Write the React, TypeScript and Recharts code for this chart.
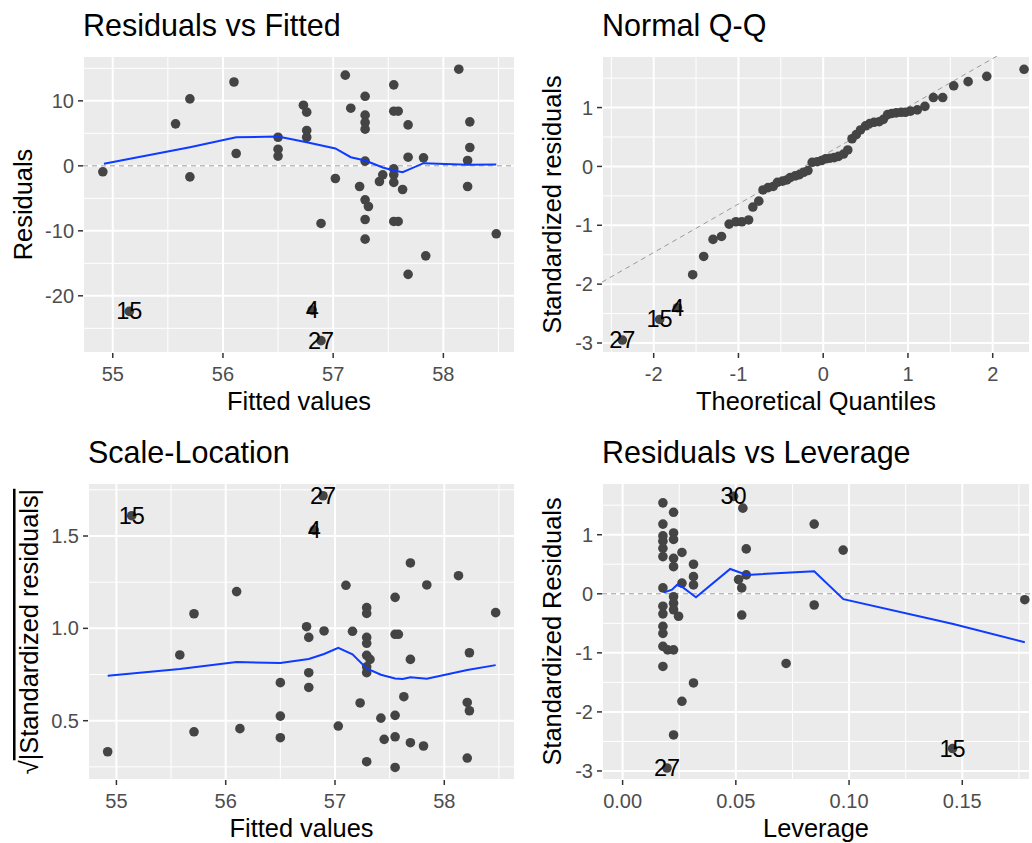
import React from "react";
import { ScatterChart, Scatter, XAxis, YAxis, CartesianGrid, ReferenceLine } from "recharts";

const FONT = '"Liberation Sans", Arial, Helvetica, sans-serif';
const POINT = "#444444";
const BLUE = "#0d3bff";
const DASH = "#9a9a9a";

// Residuals vs Fitted: [fitted, residual]
const rvfPoints = [
  [54.91, -0.92], [55.57, 6.46], [55.7, 10.3], [55.7, -1.7], [56.1, 12.9], [56.12, 1.9],
  [56.5, 4.4], [56.5, 2.56], [56.5, 1.5], [56.73, 9.33], [56.76, 8.26], [56.76, 5.44],
  [56.76, 4.4], [56.89, -8.87], [57.02, -1.95], [57.11, 13.95], [57.16, 8.87], [57.24, -3.18],
  [57.29, 10.7], [57.29, 7.8], [57.29, 6.67], [57.29, 5.64], [57.29, 0.72], [57.29, -5.23],
  [57.32, -6.26], [57.29, -8.26], [57.29, -11.28], [57.42, -2.41], [57.45, -1.38], [57.55, 12.46],
  [57.55, 8.41], [57.59, 8.41], [57.55, -0.46], [57.55, -1.38], [57.55, -2.56], [57.55, -8.56],
  [57.59, -8.56], [57.63, -3.64], [57.68, 6.3], [57.68, 1.33], [57.68, -16.7], [57.82, 1.23],
  [57.84, -13.85], [58.14, 14.87], [58.22, 0.82], [58.22, -3.18], [58.24, 6.77], [58.24, 2.82],
  [58.48, -10.46],
];
const rvfLabeled = [
  ["15", 55.15, -22.4], ["4", 56.81, -22.2], ["27", 56.89, -26.9],
];
const rvfSmooth = [
  [54.92, 0.31], [55.7, 2.87], [56.12, 4.41], [56.5, 4.5], [56.76, 3.64], [57.02, 2.67],
  [57.16, 1.33], [57.29, 0.82], [57.45, -0.26], [57.55, -0.72], [57.63, -0.97], [57.68, -0.62],
  [57.82, 0.41], [58.22, 0.15], [58.48, 0.2],
];

// Normal Q-Q: [theoretical, standardized residual]
const qqPoints = [
  [-1.54, -1.84], [-1.41, -1.53], [-1.3, -1.24], [-1.2, -1.19], [-1.11, -0.98], [-1.03, -0.94],
  [-0.96, -0.94], [-0.88, -0.91], [-0.83, -0.69], [-0.76, -0.59], [-0.71, -0.4], [-0.65, -0.36],
  [-0.59, -0.34], [-0.54, -0.27], [-0.48, -0.25], [-0.43, -0.23], [-0.39, -0.19], [-0.33, -0.16],
  [-0.28, -0.14], [-0.23, -0.1], [-0.18, -0.07], [-0.13, 0.07], [-0.07, 0.08], [-0.02, 0.1],
  [0.03, 0.13], [0.08, 0.14], [0.13, 0.15], [0.18, 0.17], [0.24, 0.21], [0.29, 0.28],
  [0.34, 0.47], [0.39, 0.54], [0.44, 0.62], [0.5, 0.69], [0.55, 0.73], [0.6, 0.75],
  [0.66, 0.76], [0.71, 0.8], [0.76, 0.88], [0.81, 0.9], [0.86, 0.91], [0.92, 0.92],
  [0.97, 0.92], [1.03, 0.94], [1.11, 0.96], [1.2, 1.02], [1.3, 1.17], [1.41, 1.17],
  [1.54, 1.37], [1.71, 1.44], [1.93, 1.53], [2.37, 1.65],
];
const qqLabeled = [
  ["27", -2.37, -2.95], ["15", -1.93, -2.6], ["4", -1.72, -2.4],
];
const qqLine = { slope: 0.824, intercept: 0.185 };

// Scale-Location: [fitted, sqrt(|std resid|)]
const slPoints = [
  [54.92, 0.332], [55.58, 0.856], [55.71, 1.079], [55.71, 0.44], [56.1, 1.199], [56.13, 0.457],
  [56.5, 0.706], [56.5, 0.525], [56.5, 0.408], [56.74, 1.009], [56.76, 0.951], [56.76, 0.76],
  [56.76, 0.68], [56.9, 0.986], [57.03, 0.471], [57.1, 1.233], [57.16, 0.984], [57.23, 0.596],
  [57.29, 1.112], [57.29, 1.081], [57.29, 0.951], [57.29, 0.919], [57.29, 0.854], [57.32, 0.832],
  [57.29, 0.792], [57.29, 0.76], [57.29, 0.278], [57.42, 0.514], [57.45, 0.399], [57.55, 1.168],
  [57.55, 0.968], [57.58, 0.968], [57.55, 0.529], [57.55, 0.413], [57.55, 0.247], [57.63, 0.63],
  [57.69, 1.354], [57.69, 0.832], [57.69, 0.381], [57.81, 0.363], [57.84, 1.235], [58.13, 1.285],
  [58.21, 0.599], [58.23, 0.554], [58.23, 0.868], [58.21, 0.298], [58.47, 1.085],
];
const slLabeled = [
  ["15", 55.14, 1.61], ["4", 56.81, 1.532], ["27", 56.89, 1.718],
];
const slSmooth = [
  [54.92, 0.744], [55.58, 0.78], [56.1, 0.818], [56.5, 0.812], [56.76, 0.834], [56.9, 0.861],
  [57.03, 0.895], [57.16, 0.859], [57.29, 0.783], [57.42, 0.749], [57.55, 0.729], [57.62, 0.726],
  [57.69, 0.735], [57.84, 0.727], [58.21, 0.774], [58.47, 0.801],
];

// Residuals vs Leverage: [leverage, std resid]
const rvlPoints = [
  [0.0178, 1.54], [0.0178, 1.18], [0.0178, 0.98], [0.0178, 0.89], [0.0178, 0.77], [0.0178, 0.63],
  [0.0178, 0.1], [0.0178, -0.21], [0.0178, -0.34], [0.0178, -0.55], [0.0178, -0.67], [0.0178, -0.89],
  [0.0178, -1.23], [0.0199, -0.95], [0.0225, 1.38], [0.0225, 1.03], [0.0225, 0.92], [0.0225, 0.6],
  [0.0225, 0.46], [0.0225, -0.05], [0.0225, -0.16], [0.0225, -0.27], [0.0225, -0.95], [0.0225, -2.39],
  [0.0247, -0.38], [0.0262, 0.7], [0.0262, 0.18], [0.0262, -1.82], [0.0313, 0.5], [0.0313, 0.29],
  [0.0313, 0.15], [0.0313, -1.51], [0.0512, 0.24], [0.0526, 0.1], [0.0526, -0.36], [0.0531, 1.45],
  [0.0546, 0.76], [0.0546, 0.32], [0.0722, -1.18], [0.0846, 1.18], [0.0846, -0.19], [0.0974, 0.74],
  [0.1776, -0.1],
];
const rvlLabeled = [
  ["30", 0.049, 1.65], ["27", 0.0196, -2.95], ["15", 0.1457, -2.62],
];
const rvlSmooth = [
  [0.0181, 0.02], [0.0218, 0.07], [0.024, 0.15], [0.0262, 0.12], [0.0324, -0.06], [0.0475, 0.42],
  [0.0549, 0.32], [0.0846, 0.38], [0.0975, -0.09], [0.146, -0.51], [0.1776, -0.82],
];

const toXY = (arr: number[][]) => arr.map(([x, y]) => ({ x, y }));
const toLab = (arr: any[][]) => arr.map(([id, x, y]) => ({ x, y, id }));

const Dot = (p: any) => <circle cx={p.cx} cy={p.cy} r={4.8} fill={POINT} />;
const LabeledDot = (p: any) => (
  <g>
    <circle cx={p.cx} cy={p.cy} r={4.8} fill={POINT} />
    <text x={p.cx} y={p.cy} textAnchor="middle" dominantBaseline="central" fontSize={23.5} fontFamily={FONT} fill="#000">
      {p.payload?.id ?? p.id}
    </text>
  </g>
);
const NoDot = () => <g />;

const tickStyle = { fill: "#4d4d4d", fontSize: 20, fontFamily: FONT };
const tickLine = { stroke: "#333333", strokeWidth: 1.5 };

type PanelProps = {
  left: number; top: number; width: number; yAxisWidth: number; marginRight: number;
  xDomain: number[]; xTicks: number[]; xMinor: number[]; xFmt?: (v: number) => string;
  yDomain: number[]; yTicks: number[]; yMinor: number[]; yFmt?: (v: number) => string;
  children: React.ReactNode;
};

function Panel(p: PanelProps) {
  return (
    <div style={{ position: "absolute", left: p.left, top: p.top }}>
      <ScatterChart width={p.width} height={420} margin={{ top: 56, right: p.marginRight, bottom: 0, left: 0 }}>
        <XAxis type="number" dataKey="x" domain={p.xDomain} ticks={p.xTicks} allowDataOverflow interval={0}
          axisLine={false} tickLine={tickLine} tickSize={5} tickMargin={9} height={67} tick={tickStyle}
          tickFormatter={p.xFmt} />
        <YAxis type="number" dataKey="y" domain={p.yDomain} ticks={p.yTicks} allowDataOverflow interval={0}
          axisLine={false} tickLine={tickLine} tickSize={5} tickMargin={4} width={p.yAxisWidth} tick={tickStyle}
          tickFormatter={p.yFmt} />
        <CartesianGrid fill="#ebebeb" stroke="#ffffff" strokeWidth={1} verticalValues={p.xMinor} horizontalValues={p.yMinor} />
        <CartesianGrid stroke="#ffffff" strokeWidth={2} />
        {p.children}
      </ScatterChart>
    </div>
  );
}

export default function App() {
  const qqX0 = -2.61;
  const qqX1 = 2.44;
  return (
    <div style={{ position: "absolute", left: 0, top: 0, width: 1032, height: 843, background: "#fff", overflow: "hidden" }}>
      <Panel left={0} top={0} width={520} yAxisWidth={83} marginRight={5}
        xDomain={[54.73, 58.65]} xTicks={[55, 56, 57, 58]} xMinor={[55.5, 56.5, 57.5, 58.5]}
        yDomain={[-28.8, 16.9]} yTicks={[-20, -10, 0, 10]} yMinor={[-25, -15, -5, 5, 15]}>
        <ReferenceLine y={0} stroke={DASH} strokeDasharray="5 4" strokeWidth={1} />
        <Scatter data={toXY(rvfPoints)} shape={Dot} isAnimationActive={false} />
        <Scatter data={toLab(rvfLabeled)} shape={LabeledDot} isAnimationActive={false} />
        <Scatter data={toXY(rvfSmooth)} shape={NoDot} line={{ stroke: BLUE, strokeWidth: 2 }} isAnimationActive={false} />
      </Panel>

      <Panel left={520} top={0} width={512} yAxisWidth={82} marginRight={2}
        xDomain={[-2.61, 2.44]} xTicks={[-2, -1, 0, 1, 2]} xMinor={[-2.5, -1.5, -0.5, 0.5, 1.5]}
        yDomain={[-3.17, 1.876]} yTicks={[-3, -2, -1, 0, 1]} yMinor={[-2.5, -1.5, -0.5, 0.5, 1.5]}>
        <ReferenceLine
          segment={[
            { x: qqX0, y: qqLine.intercept + qqLine.slope * qqX0 },
            { x: qqX1, y: qqLine.intercept + qqLine.slope * qqX1 },
          ]}
          ifOverflow="hidden" stroke={DASH} strokeDasharray="5 4" strokeWidth={1} />
        <Scatter data={toXY(qqPoints)} shape={Dot} isAnimationActive={false} />
        <Scatter data={toLab(qqLabeled)} shape={LabeledDot} isAnimationActive={false} />
      </Panel>

      <Panel left={0} top={427} width={520} yAxisWidth={88} marginRight={5}
        xDomain={[54.74, 58.647]} xTicks={[55, 56, 57, 58]} xMinor={[55.5, 56.5, 57.5, 58.5]}
        yDomain={[0.179, 1.787]} yTicks={[0.5, 1.0, 1.5]} yMinor={[0.25, 0.75, 1.25, 1.75]}
        yFmt={(v) => v.toFixed(1)}>
        <Scatter data={toXY(slPoints)} shape={Dot} isAnimationActive={false} />
        <Scatter data={toLab(slLabeled)} shape={LabeledDot} isAnimationActive={false} />
        <Scatter data={toXY(slSmooth)} shape={NoDot} line={{ stroke: BLUE, strokeWidth: 2 }} isAnimationActive={false} />
      </Panel>

      <Panel left={520} top={427} width={512} yAxisWidth={82} marginRight={2}
        xDomain={[-0.0091, 0.1799]} xTicks={[0, 0.05, 0.1, 0.15]} xMinor={[0.025, 0.075, 0.125, 0.175]}
        yDomain={[-3.153, 1.876]} yTicks={[-3, -2, -1, 0, 1]} yMinor={[-2.5, -1.5, -0.5, 0.5, 1.5]}
        xFmt={(v) => v.toFixed(2)}>
        <ReferenceLine y={0} stroke={DASH} strokeDasharray="5 4" strokeWidth={1} />
        <Scatter data={toXY(rvlPoints)} shape={Dot} isAnimationActive={false} />
        <Scatter data={toLab(rvlLabeled)} shape={LabeledDot} isAnimationActive={false} />
        <Scatter data={toXY(rvlSmooth)} shape={NoDot} line={{ stroke: BLUE, strokeWidth: 2 }} isAnimationActive={false} />
      </Panel>

      <svg width={1032} height={843} style={{ position: "absolute", left: 0, top: 0, pointerEvents: "none" }}
        fontFamily={FONT}>
        <g fontSize={30.5} fill="#000">
          <text x={83} y={36}>Residuals vs Fitted</text>
          <text x={602} y={36}>Normal Q-Q</text>
          <text x={88} y={463}>Scale-Location</text>
          <text x={602} y={463}>Residuals vs Leverage</text>
        </g>
        <g fontSize={25.4} fill="#000" textAnchor="middle">
          <text x={299} y={410}>Fitted values</text>
          <text x={816} y={410}>Theoretical Quantiles</text>
          <text x={301.5} y={837}>Fitted values</text>
          <text x={816} y={837}>Leverage</text>
          <text transform="translate(32,204.5) rotate(-90)">Residuals</text>
          <text transform="translate(561,204.5) rotate(-90)">Standardized residuals</text>
          <text transform="translate(38,631.5) rotate(-90)">
            √<tspan style={{ textDecoration: "overline" }}>|Standardized residuals|</tspan>
          </text>
          <text transform="translate(561,631.5) rotate(-90)">Standardized Residuals</text>
        </g>
      </svg>
    </div>
  );
}
